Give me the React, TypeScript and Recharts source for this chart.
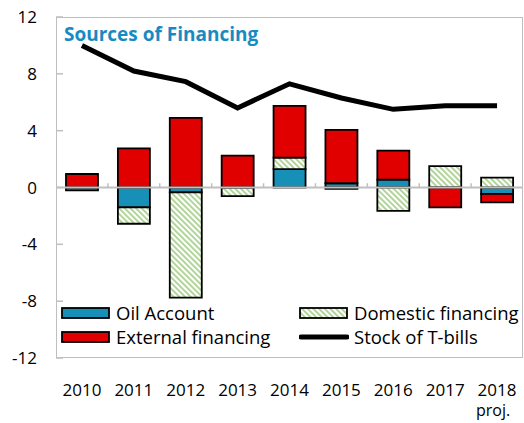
import React from "react";
import {
  Bar,
  ComposedChart,
  Line,
  ReferenceLine,
  XAxis,
  YAxis,
} from "recharts";

const years = ["2010", "2011", "2012", "2013", "2014", "2015", "2016", "2017", "2018"];
const oilAccount = [-0.2, -1.4, -0.35, 0, 1.3, 0.3, 0.55, 0, -0.45];
const domestic = [0, -1.15, -7.4, -0.6, 0.8, -0.1, -1.65, 1.5, 0.7];
const external = [0.95, 2.75, 4.9, 2.25, 3.65, 3.75, 2.05, -1.4, -0.6];
const tBills = [10.0, 8.2, 7.45, 5.6, 7.3, 6.3, 5.5, 5.75, 5.75];
const yTicks = [12, 8, 4, 0, -4, -8, -12];

const data = years.map((year, i) => ({
  year,
  oil: oilAccount[i],
  domestic: domestic[i],
  external: external[i],
  tbills: tBills[i],
}));

const FONT = "'Open Sans', 'Noto Sans', sans-serif";
const OIL = "#1690B6";
const RED = "#E00000";
const HATCH = "#A9D18E";
const GRID = "#BFBFBF";

const W = 524;
const H = 423;
const M = { top: 17, right: 1, bottom: 0, left: 0 };
const Y_W = 56;
const X_H = 65;

function YTick(props: any) {
  const { x, y, payload } = props;
  return (
    <g>
      <line x1={x} x2={x + 7} y1={y} y2={y} stroke={GRID} strokeWidth={1.5} />
      <text x={x - 19} y={y + 6} textAnchor="end" fontSize={17} fontFamily={FONT} fill="#000">
        {payload.value}
      </text>
    </g>
  );
}

function XTick(props: any) {
  const { x, y, payload } = props;
  return (
    <g>
      <text x={x} y={y + 38} textAnchor="middle" fontSize={17} fontFamily={FONT} fill="#000">
        {payload.value}
      </text>
      {payload.value === "2018" && (
        <text x={x - 4} y={y + 58} textAnchor="middle" fontSize={16} fontFamily={FONT} fill="#000">
          proj.
        </text>
      )}
    </g>
  );
}

function Swatch({ kind }: { kind: string }) {
  if (kind === "line") {
    return (
      <svg width={50} height={12} style={{ display: "block" }}>
        <line x1={2} x2={48} y1={6} y2={6} stroke="#000" strokeWidth={5} strokeLinecap="round" />
      </svg>
    );
  }
  const fill = kind === "oil" ? OIL : kind === "ext" ? RED : "url(#hatchLegend)";
  return (
    <svg width={50} height={12} style={{ display: "block" }}>
      <defs>
        <pattern id="hatchLegend" patternUnits="userSpaceOnUse" width={4} height={4} patternTransform="rotate(-45)">
          <rect width={4} height={4} fill="#fff" />
          <rect width={1.8} height={4} fill={HATCH} />
        </pattern>
      </defs>
      <rect x={1} y={1} width={47} height={10} fill={fill} stroke="#000" strokeWidth={1.8} />
    </svg>
  );
}

function LegendItem({ kind, label, left, top }: { kind: string; label: string; left: number; top: number }) {
  return (
    <div style={{ position: "absolute", left, top, display: "flex", alignItems: "center", gap: 5 }}>
      <Swatch kind={kind} />
      <span style={{ fontFamily: FONT, fontSize: 18.5, color: "#000", whiteSpace: "nowrap" }}>{label}</span>
    </div>
  );
}

export default function App() {
  const plotLeft = M.left + Y_W;
  const plotTop = M.top;
  const plotW = W - plotLeft - M.right;
  const plotH = H - M.top - M.bottom - X_H;

  return (
    <div style={{ position: "absolute", left: 0, top: 0, width: W, height: H, background: "#fff" }}>
      <ComposedChart
        width={W}
        height={H}
        data={data}
        margin={M}
        stackOffset="sign"
        barSize={32}
      >
        <defs>
          <pattern id="hatch" patternUnits="userSpaceOnUse" width={4} height={4} patternTransform="rotate(-45)">
            <rect width={4} height={4} fill="#fff" />
            <rect width={1.8} height={4} fill={HATCH} />
          </pattern>
        </defs>
        <XAxis
          dataKey="year"
          axisLine={false}
          tickLine={false}
          tickSize={0}
          tickMargin={0}
          interval={0}
          height={X_H}
          tick={<XTick />}
        />
        <YAxis
          domain={[-12, 12]}
          ticks={yTicks}
          axisLine={false}
          tickLine={false}
          tickSize={0}
          tickMargin={0}
          width={Y_W}
          tick={<YTick />}
          interval={0}
        />
        <ReferenceLine y={0} stroke={GRID} strokeWidth={2} />
        {years.slice(1).map((yr) => (
          <ReferenceLine
            key={yr}
            position="start"
            segment={[
              { x: yr, y: 0 },
              { x: yr, y: 0.3 },
            ]}
            stroke={GRID}
            strokeWidth={1.5}
          />
        ))}
        <Bar dataKey="oil" stackId="a" fill={OIL} stroke="#000" strokeWidth={1.8} isAnimationActive={false} />
        <Bar dataKey="domestic" stackId="a" fill="url(#hatch)" stroke="#000" strokeWidth={1.8} isAnimationActive={false} />
        <Bar dataKey="external" stackId="a" fill={RED} stroke="#000" strokeWidth={1.8} isAnimationActive={false} />
        <Line
          dataKey="tbills"
          stroke="#000"
          strokeWidth={5}
          dot={false}
          type="linear"
          isAnimationActive={false}
        />
      </ComposedChart>
      <div
        style={{
          position: "absolute",
          left: plotLeft,
          top: plotTop,
          width: plotW,
          height: plotH,
          border: `1.5px solid ${GRID}`,
          boxSizing: "border-box",
          pointerEvents: "none",
        }}
      />
      <div
        style={{
          position: "absolute",
          left: 64,
          top: 21,
          fontFamily: FONT,
          fontWeight: 700,
          fontSize: 19,
          color: "#168BC2",
          whiteSpace: "nowrap",
        }}
      >
        Sources of Financing
      </div>
      <LegendItem kind="oil" label="Oil Account" left={61} top={300} />
      <LegendItem kind="ext" label="External financing" left={61} top={324} />
      <LegendItem kind="dom" label="Domestic financing" left={299} top={300} />
      <LegendItem kind="line" label="Stock of T-bills" left={299} top={324} />
    </div>
  );
}
